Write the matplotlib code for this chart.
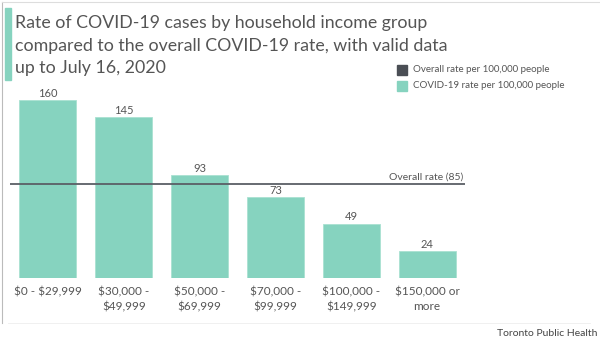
import matplotlib.pyplot as plt
from matplotlib.patches import Rectangle

plt.rcParams['font.family'] = ['Lato', 'DejaVu Sans']
plt.rcParams['text.parse_math'] = False

# income groups and COVID-19 rate per 100,000
groups = ['$0 - $29,999', '$30,000 -\n$49,999', '$50,000 -\n$69,999',
          '$70,000 -\n$99,999', '$100,000 -\n$149,999', '$150,000 or\nmore']
rates = [160, 145, 93, 73, 49, 24]
overall = 85

bar_col = '#86d3bf'
line_col = '#5a5f66'
txt_col = '#555555'

fig = plt.figure(figsize=(6, 3.43), dpi=100)
W, H = 600, 343

# axes placed in pixel terms: baseline at y=278, x from 10 to 465
ax = fig.add_axes([10 / W, (H - 278) / H, 455 / W, 188 / H])
x = range(len(rates))
ax.bar(x, rates, width=0.75, color=bar_col, edgecolor='#a9e1d2', linewidth=0.6)
ax.set_xlim(-0.5, 5.5)
ax.set_ylim(0, 188 / 1.11)
ax.axhline(overall, color=line_col, lw=1.3)
ax.text(5.48, overall + 2, 'Overall rate (85)', ha='right', va='bottom',
        fontsize=7.5, color=txt_col)
for i, v in enumerate(rates):
    ax.text(i, v + 1, str(v), ha='center', va='bottom', fontsize=8, color=txt_col)
ax.set_xticks(list(x))
ax.set_xticklabels(groups, fontsize=8.5, color=txt_col, linespacing=1.45)
ax.tick_params(axis='x', length=0, pad=6)
ax.set_yticks([])
for s in ax.spines.values():
    s.set_visible(False)

# frame lines and title accent
fig.add_artist(plt.Line2D([2 / W, 2 / W], [1 - 2 / H, 1 - 323 / H], color='#bbbbbb', lw=0.8))
fig.add_artist(plt.Line2D([2 / W, 1], [1 - 1.5 / H, 1 - 1.5 / H], color='#dddddd', lw=0.8))
fig.add_artist(plt.Line2D([8 / W, 590 / W], [1 - 323 / H, 1 - 323 / H], color='#eeeeee', lw=0.6))
fig.add_artist(Rectangle((5 / W, 1 - 80 / H), 6 / W, 72 / H, color=bar_col, transform=fig.transFigure))

title_lines = ['Rate of COVID-19 cases by household income group',
               'compared to the overall COVID-19 rate, with valid data',
               'up to July 16, 2020']
for k, line in enumerate(title_lines):
    fig.text(15 / W, 1 - (23 + 22.5 * k) / H, line, ha='left', va='center',
             fontsize=12.8, color=txt_col)

# legend
fig.add_artist(Rectangle((397 / W, 1 - 75 / H), 10 / W, 10 / H, color='#4a4e55', transform=fig.transFigure))
fig.add_artist(Rectangle((397 / W, 1 - 91 / H), 10 / W, 10 / H, color=bar_col, transform=fig.transFigure))
fig.text(413 / W, 1 - 70 / H, 'Overall rate per 100,000 people', fontsize=7, color=txt_col, va='center')
fig.text(413 / W, 1 - 86 / H, 'COVID-19 rate per 100,000 people', fontsize=7, color=txt_col, va='center')

fig.text(597 / W, 1 - 334 / H, 'Toronto Public Health', ha='right', va='center',
         fontsize=7.5, color='#444444')

fig.savefig('out.png', dpi=100)
